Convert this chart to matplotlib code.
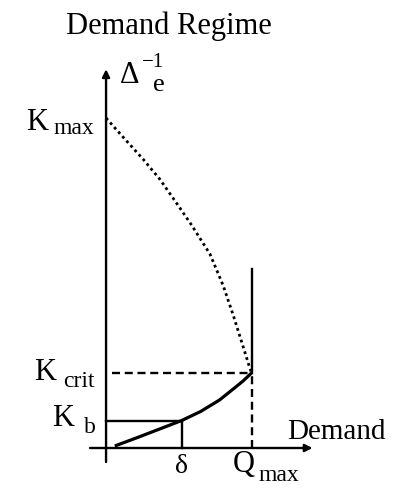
import matplotlib.pyplot as plt

plt.rcParams['font.family'] = ['Liberation Serif', 'DejaVu Serif']

# demand in units of Q_max = 10, inverse elasticity in arbitrary units
q_max = 10.0
delta = 5.2
k_max = 13.2
k_crit = 3.0
k_b = 1.1

# supply-side curve (solid), rising from the origin to K_crit at Q_max
low_q = [0.6, 2.3, 5.2, 6.5, 7.8, 8.7, 9.4, 10.0]
low_k = [0.08, 0.45, 1.1, 1.46, 1.92, 2.34, 2.67, 3.0]

# demand-regime curve (dotted), falling from K_max to K_crit
up_q = [0.0, 1.15, 2.55, 3.7, 4.9, 5.9, 7.15, 8.05, 8.75, 9.4, 9.8, 10.0]
up_k = [13.2, 12.45, 11.55, 10.75, 9.75, 8.9, 7.75, 6.5, 5.3, 4.1, 3.35, 3.0]

fig = plt.figure(figsize=(3.98, 4.89), dpi=100)
ax = fig.add_axes([0, 0, 1, 1])
ax.set_xlim(-7.29, 20.07)
ax.set_ylim(-1.6, 17.96)
ax.axis('off')

lw = 1.7
arrow = dict(arrowstyle='-|>', lw=lw, color='black', mutation_scale=11,
             shrinkA=0, shrinkB=0)
# axes with arrowheads
ax.annotate('', xy=(0, 15.15), xytext=(0, -0.56), arrowprops=arrow)
ax.annotate('', xy=(14.2, 0), xytext=(-1.1, 0), arrowprops=arrow)

dash = (0, (3.4, 2.0))
ax.plot([0.4, q_max], [k_crit, k_crit], color='black', lw=lw, linestyle=dash)
ax.plot([q_max, q_max], [0, k_crit], color='black', lw=lw, linestyle=dash)
ax.plot([q_max, q_max], [k_crit, 7.15], color='black', lw=lw)
ax.plot([0, delta], [k_b, k_b], color='black', lw=lw)
ax.plot([delta, delta], [0, k_b], color='black', lw=lw)

ax.plot(low_q, low_k, color='black', lw=2.3, solid_capstyle='butt',
        solid_joinstyle='round')
ax.plot(up_q, up_k, color='black', lw=2.0, linestyle=(0, (1.0, 1.2)))

ax.text(4.33, 16.9, 'Demand Regime', fontsize=22, ha='center', va='center')

# y-axis label: Delta with sub e, super -1
ax.text(0.95, 14.95, '\u0394', fontsize=22, ha='left', va='center')
ax.text(2.45, 15.45, '\u22121', fontsize=15, ha='left', va='center')
ax.text(3.2, 14.55, 'e', fontsize=19, ha='left', va='center')

# level labels on the y-axis
ax.text(-5.5, 13.05, 'K', fontsize=22, ha='left', va='center')
ax.text(-3.6, 12.8, 'max', fontsize=17, ha='left', va='center')
ax.text(-4.95, 3.05, 'K', fontsize=22, ha='left', va='center')
ax.text(-2.95, 2.7, 'crit', fontsize=17, ha='left', va='center')
ax.text(-3.7, 1.2, 'K', fontsize=22, ha='left', va='center')
ax.text(-1.55, 0.85, 'b', fontsize=17, ha='left', va='center')

# x-axis labels
ax.text(12.45, 0.68, 'Demand', fontsize=21, ha='left', va='center')
ax.text(delta, -0.72, '\u03b4', fontsize=20, ha='center', va='center')
ax.text(8.7, -0.62, 'Q', fontsize=22, ha='left', va='center')
ax.text(10.45, -1.08, 'max', fontsize=17, ha='left', va='center')

fig.savefig('out.png', dpi=100)
